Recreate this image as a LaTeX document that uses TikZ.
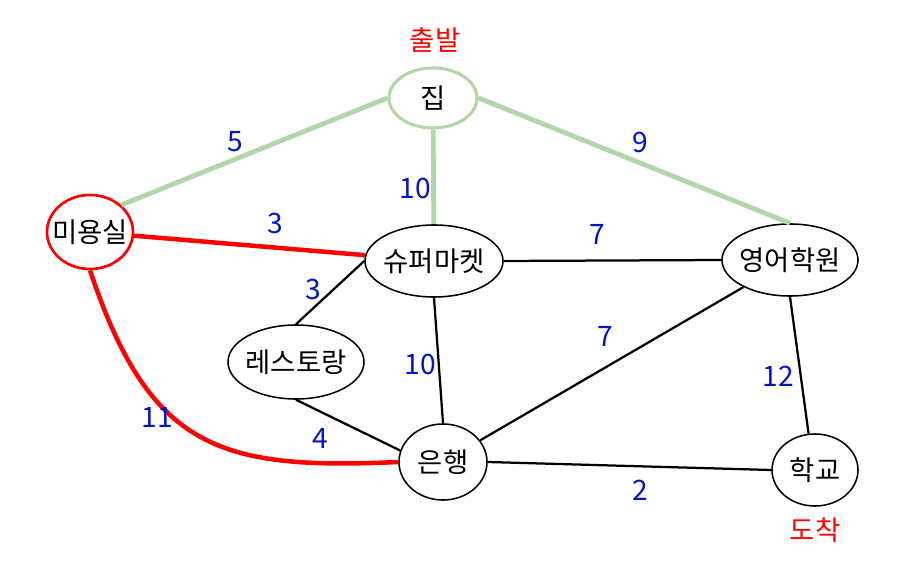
\documentclass[tikz,border=0pt]{standalone}
\usepackage{fontspec}
\setmainfont{Noto Sans CJK KR}
\usetikzlibrary{shapes.geometric}

\definecolor{pathgreen}{RGB}{178,214,170}
\definecolor{weightblue}{RGB}{0,20,200}

\begin{document}
\begin{tikzpicture}[x=0.025cm, y=-0.025cm,
    place/.style={ellipse, draw, line width=1.1pt, inner xsep=-4pt, inner ysep=0pt, font=\fontsize{19.5}{22}\selectfont},
    weight/.style={text=weightblue, font=\fontsize{20}{22}\selectfont},
    tag/.style={text=red, font=\fontsize{19.5}{22}\selectfont},
    road/.style={line width=1.6pt},
    visited/.style={line width=3.4pt, pathgreen},
    route/.style={line width=3.2pt, red}
]
    \useasboundingbox (0,0) rectangle (897,584);

    % Nodes
    \node[place, draw=pathgreen, line width=2.2pt, minimum width=2.2cm, minimum height=1.5cm] (home) at (433,98) {집};
    \node[place, draw=red, line width=1.9pt, inner xsep=-7pt, minimum width=2.15cm, minimum height=1.85cm] (salon) at (90,232) {미용실};
    \node[place, minimum width=3.45cm, minimum height=1.8cm] (market) at (434,261) {슈퍼마켓};
    \node[place, minimum width=3.4cm, minimum height=1.8cm] (academy) at (790,260) {영어학원};
    \node[place, minimum width=3.4cm, minimum height=1.85cm] (restaurant) at (296,362) {레스토랑};
    \node[place, minimum width=2.2cm, minimum height=1.9cm] (bank) at (443,462) {은행};
    \node[place, minimum width=2.15cm, minimum height=1.8cm] (school) at (815,470) {학교};

    \node[tag] (start) at (435,40) {출발};
    \node[tag] (goal) at (815,530) {도착};

    % Edges
    \draw[visited] (home.west) -- (salon.north east);
    \draw[visited] (home) -- (market);
    \draw[visited] (home.east) -- (academy.north);
    \draw[route] (salon) -- (market);
    \draw[route] (salon.south) .. controls (150,450) and (220,470) .. (bank.west);
    \draw[road] (market.west) -- (restaurant.north);
    \draw[road] (market.east) -- (academy.west);
    \draw[road] (market.south) -- (bank.north);
    \draw[road] (restaurant.south) -- (bank.165);
    \draw[road] (bank) -- (academy);
    \draw[road] (bank.east) -- (school.west);
    \draw[road] (academy.south) -- (school.100);

    % Weights
    \node[weight] (w-home-salon) at (235,142) {5};
    \node[weight] (w-home-market) at (415,188) {10};
    \node[weight] (w-home-academy) at (640,142) {9};
    \node[weight] (w-salon-market) at (275,223) {3};
    \node[weight] (w-market-academy) at (597,234) {7};
    \node[weight] (w-market-restaurant) at (313,289) {3};
    \node[weight] (w-market-bank) at (420,364) {10};
    \node[weight] (w-bank-academy) at (605,336) {7};
    \node[weight] (w-academy-school) at (778,376) {12};
    \node[weight] (w-salon-bank) at (157,417) {11};
    \node[weight] (w-restaurant-bank) at (320,438) {4};
    \node[weight] (w-bank-school) at (640,490) {2};
\end{tikzpicture}
\end{document}
